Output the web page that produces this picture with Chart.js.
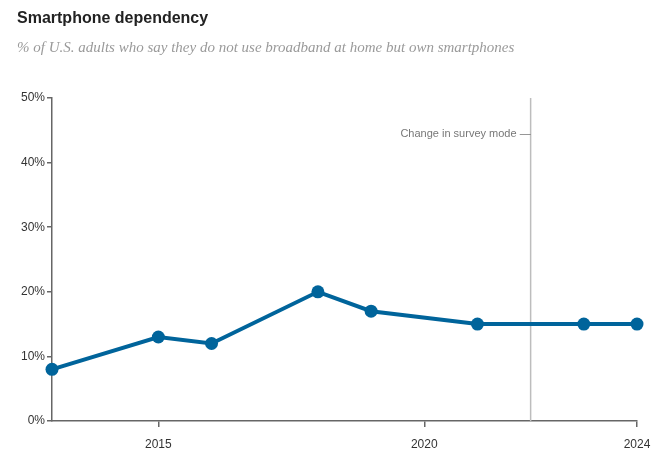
<!DOCTYPE html>
<html>
<head>
<meta charset="utf-8">
<script src="https://cdn.jsdelivr.net/npm/chart.js@4/dist/chart.umd.min.js"></script>
<style>
  html, body { margin: 0; padding: 0; background: #fff; }
  #wrap { position: relative; width: 670px; height: 461px; }
  #title {
    position: absolute; left: 17px; top: 9px;
    font: bold 16px "Liberation Sans", Arial, sans-serif; color: #222;
  }
  #subtitle {
    position: absolute; left: 17px; top: 39px;
    font: italic 15px "Liberation Serif", Georgia, serif; color: #9a9a9a;
  }
  canvas { position: absolute; left: 0; top: 0; }
</style>
</head>
<body>
<div id="wrap">
  <canvas id="chart" width="670" height="461"></canvas>
  <div id="title">Smartphone dependency</div>
  <div id="subtitle">% of U.S. adults who say they do not use broadband at home but own smartphones</div>
</div>
<script>
// survey years and share of adults (%)
var years = [2013, 2015, 2016, 2018, 2019, 2021, 2023, 2024];
var shares = [8, 13, 12, 20, 17, 15, 15, 15];
var yearTicks = [2015, 2020, 2024];
var pctTicks = [0, 10, 20, 30, 40, 50];
var modeChangeYear = 2022;
var modeChangeLabel = "Change in survey mode \u2014";

var axisColor = "#666";
var lineColor = "#00649b";

var modeLine = {
    id: "modeLine",
    beforeDatasetsDraw(chart) {
        var ctx = chart.ctx;
        var x = chart.scales.x.getPixelForValue(modeChangeYear);
        var area = chart.chartArea;
        ctx.save();
        ctx.strokeStyle = "#bdbdbd";
        ctx.lineWidth = 1.5;
        ctx.beginPath();
        ctx.moveTo(x, area.top);
        ctx.lineTo(x, area.bottom);
        ctx.stroke();
        ctx.fillStyle = "#777";
        ctx.font = "11px 'Liberation Sans', Arial, sans-serif";
        ctx.textAlign = "right";
        ctx.textBaseline = "middle";
        ctx.fillText(modeChangeLabel, x, 134);
        ctx.restore();
    }
};

var points = years.map(function (y, i) { return { x: y, y: shares[i] }; });

new Chart(document.getElementById("chart"), {
    type: "line",
    data: {
        datasets: [{
            data: points,
            borderColor: lineColor,
            backgroundColor: lineColor,
            borderWidth: 4,
            pointRadius: 6.5,
            pointBorderWidth: 0,
            tension: 0,
            clip: false
        }]
    },
    options: {
        responsive: false,
        animation: false,
        layout: { padding: { top: 98, right: 33, left: 0, bottom: 0 } },
        plugins: { legend: { display: false }, tooltip: { enabled: false } },
        scales: {
            x: {
                type: "linear",
                min: 2013,
                max: 2024,
                afterBuildTicks(scale) {
                    scale.ticks = yearTicks.map(function (v) { return { value: v }; });
                },
                afterFit(scale) { scale.height = 40; },
                border: { color: axisColor, width: 1.5 },
                grid: { drawOnChartArea: false, tickLength: 6, color: axisColor, lineWidth: 1.5 },
                ticks: {
                    color: "#333",
                    font: { family: "'Liberation Sans', Arial, sans-serif", size: 12 },
                    padding: 10,
                    maxRotation: 0,
                    callback: function (v) { return String(v); }
                }
            },
            y: {
                min: 0,
                max: 50,
                afterBuildTicks(scale) {
                    scale.ticks = pctTicks.map(function (v) { return { value: v }; });
                },
                afterFit(scale) { scale.width = 52; },
                border: { color: axisColor, width: 1.5 },
                grid: { drawOnChartArea: false, tickLength: 5, color: axisColor, lineWidth: 1.5 },
                ticks: {
                    color: "#333",
                    font: { family: "'Liberation Sans', Arial, sans-serif", size: 12 },
                    padding: 2,
                    callback: function (v) { return v + "%"; }
                }
            }
        }
    },
    plugins: [modeLine]
});
</script>
</body>
</html>
